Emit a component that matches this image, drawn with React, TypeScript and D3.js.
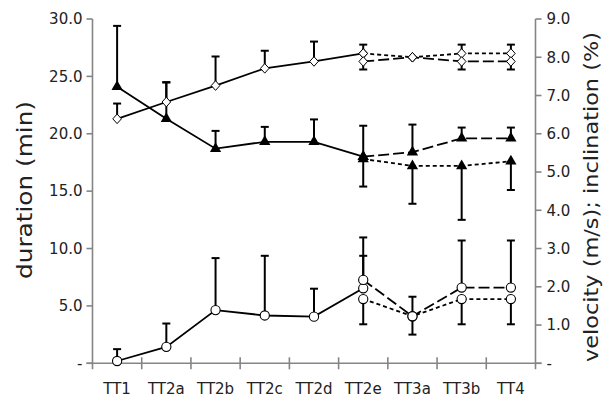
import React from 'react';
import * as d3 from 'd3';

const width = 607;
const height = 398;
const margin = { top: 19, left: 92.5, right: 71.5, bottom: 35 };

const categories = ['TT1', 'TT2a', 'TT2b', 'TT2c', 'TT2d', 'TT2e', 'TT3a', 'TT3b', 'TT4'];
const solidCats = categories.slice(0, 6);
const dashCats = categories.slice(5);

const leftTicks = [0, 5, 10, 15, 20, 25, 30];
const rightTicks = [0, 1, 2, 3, 4, 5, 6, 7, 8, 9];

// duration (left axis) - triangles
const triSolid = [24.1, 21.3, 18.7, 19.3, 19.3, 18.0];
const triSolidErr = [5.3, 3.2, 1.55, 1.3, 1.95, 0];
const triLong = [18.0, 18.4, 19.6, 19.6];
const triLongErr = [2.7, 2.4, 0.94, 0.94];
const triShort = [17.8, 17.2, 17.2, 17.6];
const triShortErr = [2.4, 3.3, 4.7, 2.5];

// velocity (right axis) - diamonds
const diaSolid = [6.39, 6.83, 7.26, 7.71, 7.89, 8.1];
const diaSolidErr = [0.4, 0.51, 0.76, 0.46, 0.52, 0];
const diaShort = [8.1, 8.0, 8.1, 8.1];
const diaShortErr = [0.23, 0, 0.23, 0.23];
const diaLong = [7.89, 8.0, 7.89, 7.89];
const diaLongErr = [0.21, 0, 0.21, 0.21];

// inclination (right axis) - circles
const cirSolid = [0.06, 0.43, 1.39, 1.25, 1.22, 1.96];
const cirSolidErr = [0.31, 0.61, 1.36, 1.56, 0.73, 0.85];
const cirLong = [2.18, 1.23, 1.98, 1.98];
const cirLongErr = [1.11, 0.51, 1.23, 1.23];
const cirShort = [1.68, 1.23, 1.68, 1.68];
const cirShortErr = [0.66, 0.48, 0.66, 0.66];

const font = '"DejaVu Sans", sans-serif';
const axisColor = '#858585';

const x = d3.scaleBand().domain(categories).range([margin.left, width - margin.right]);
const yL = d3.scaleLinear().domain([0, 30]).range([height - margin.bottom + 0.3, margin.top]);
const yR = d3.scaleLinear().domain([0, 9]).range([height - margin.bottom + 0.3, margin.top]);
const cx = (c: string) => (x(c) as number) + x.bandwidth() / 2;

type Series = {
  cats: string[];
  vals: number[];
  errs: number[];
  dir: number;
  y: d3.ScaleLinear<number, number>;
  marker: string;
  dash: string | null;
};

const series: Series[] = [
  { cats: solidCats, vals: triSolid, errs: triSolidErr, dir: 1, y: yL, marker: 'tri', dash: null },
  { cats: dashCats, vals: triLong, errs: triLongErr, dir: 1, y: yL, marker: 'tri', dash: '11,4' },
  { cats: dashCats, vals: triShort, errs: triShortErr, dir: -1, y: yL, marker: 'tri', dash: '4,3' },
  { cats: solidCats, vals: diaSolid, errs: diaSolidErr, dir: 1, y: yR, marker: 'dia', dash: null },
  { cats: dashCats, vals: diaShort, errs: diaShortErr, dir: 1, y: yR, marker: 'dia', dash: '4,3' },
  { cats: dashCats, vals: diaLong, errs: diaLongErr, dir: -1, y: yR, marker: 'dia', dash: '11,4' },
  { cats: solidCats, vals: cirSolid, errs: cirSolidErr, dir: 1, y: yR, marker: 'cir', dash: null },
  { cats: dashCats, vals: cirLong, errs: cirLongErr, dir: 1, y: yR, marker: 'cir', dash: '11,4' },
  { cats: dashCats, vals: cirShort, errs: cirShortErr, dir: -1, y: yR, marker: 'cir', dash: '4,3' },
];

const triPath = d3.symbol().type(d3.symbolTriangle).size(55)() as string;
const diaPath = 'M0,-4.8L4.3,0L0,4.8L-4.3,0Z';

function Marker({ kind, px, py }: { kind: string; px: number; py: number }) {
  if (kind === 'tri') return <path d={triPath} transform={`translate(${px},${py})`} fill="#000" />;
  if (kind === 'dia')
    return <path d={diaPath} transform={`translate(${px},${py})`} fill="#fff" stroke="#000" strokeWidth={1} />;
  return <circle cx={px} cy={py} r={4.6} fill="#fff" stroke="#000" strokeWidth={1.1} />;
}

export default function App() {
  const y0 = yL(0);
  const xl = margin.left;
  const xr = width - margin.right;
  const bounds = d3.range(1, categories.length).map((i) => margin.left + i * x.step());

  return (
    <div style={{ position: 'absolute', left: 0, top: 0 }}>
      <svg width={width} height={height} style={{ display: 'block', background: '#fff' }}>
        {/* axes */}
        <g stroke={axisColor} strokeWidth={1.6} fill="none">
          <line x1={xl} x2={xl} y1={yL(30)} y2={y0 + 6} />
          <line x1={xr} x2={xr} y1={yR(9)} y2={y0 + 6} />
          <line x1={xl - 6} x2={xr + 6} y1={y0} y2={y0} />
          {leftTicks.map((t) => (
            <line key={'l' + t} x1={xl - 6} x2={xl} y1={yL(t)} y2={yL(t)} />
          ))}
          {rightTicks.map((t) => (
            <line key={'r' + t} x1={xr} x2={xr + 6} y1={yR(t)} y2={yR(t)} />
          ))}
          {bounds.map((b, i) => (
            <line key={'b' + i} x1={b} x2={b} y1={y0 - 6} y2={y0 + 6} />
          ))}
        </g>
        <g fontFamily={font} fontSize={15} fill="#222">
          {leftTicks.map((t) => (
            <text key={'lt' + t} x={xl - 10} y={yL(t)} dy="0.35em" textAnchor="end">
              {t === 0 ? '-' : d3.format('.1f')(t)}
            </text>
          ))}
          {rightTicks.map((t) => (
            <text key={'rt' + t} x={xr + 11} y={yR(t)} dy="0.35em" textAnchor="start">
              {t === 0 ? '-' : d3.format('.1f')(t)}
            </text>
          ))}
          {categories.map((c) => (
            <text key={'c' + c} x={cx(c)} y={y0 + 31} textAnchor="middle">
              {c}
            </text>
          ))}
        </g>
        <text
          fontFamily={font}
          fontSize={21}
          fill="#222"
          textAnchor="middle"
          textLength={178}
          lengthAdjust="spacingAndGlyphs"
          transform={`translate(32,190) rotate(-90)`}
        >
          duration (min)
        </text>
        <text
          fontFamily={font}
          fontSize={20}
          fill="#222"
          textAnchor="middle"
          textLength={330}
          lengthAdjust="spacingAndGlyphs"
          transform={`translate(598,197) rotate(-90)`}
        >
          velocity (m/s); inclination (%)
        </text>

        {/* error bars */}
        <g stroke="#000" strokeWidth={2}>
          {series.map((s, si) =>
            s.vals.map((v, i) => {
              if (!s.errs[i]) return null;
              const px = cx(s.cats[i]);
              const ya = s.y(v);
              const yb = s.y(v + s.dir * s.errs[i]);
              return (
                <g key={`e${si}-${i}`}>
                  <line x1={px} x2={px} y1={ya} y2={yb} />
                  <line x1={px - 4} x2={px + 4} y1={yb} y2={yb} />
                </g>
              );
            })
          )}
        </g>

        {/* lines */}
        {series.map((s, si) => {
          const line = d3
            .line<number>()
            .x((_, i) => cx(s.cats[i]))
            .y((v) => s.y(v));
          return (
            <path
              key={'p' + si}
              d={line(s.vals) as string}
              fill="none"
              stroke="#000"
              strokeWidth={1.8}
              strokeDasharray={s.dash ?? undefined}
            />
          );
        })}

        {/* markers */}
        {series.map((s, si) =>
          s.vals.map((v, i) => (
            <Marker key={`m${si}-${i}`} kind={s.marker} px={cx(s.cats[i])} py={s.y(v)} />
          ))
        )}
      </svg>
    </div>
  );
}
